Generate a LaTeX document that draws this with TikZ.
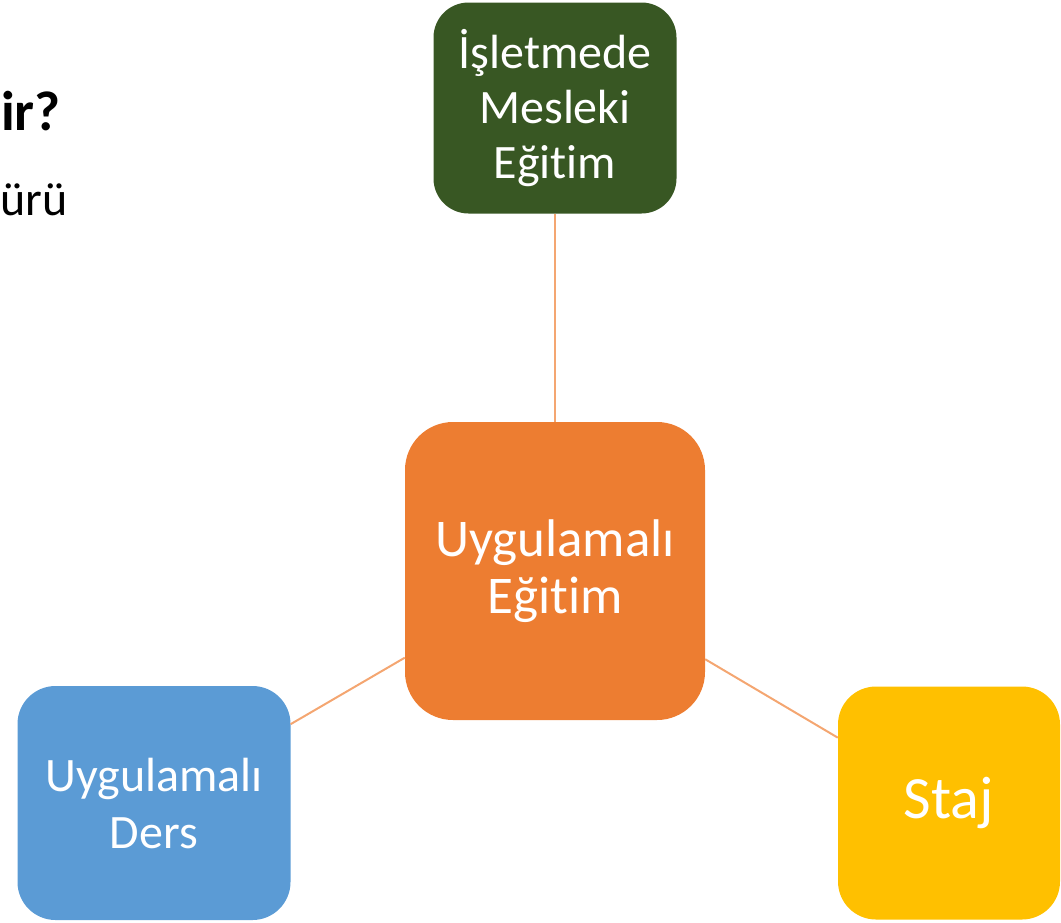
\documentclass[tikz,border=0pt]{standalone}
\usepackage{fontspec}
\setmainfont{Carlito}[Ligatures=NoCommon]
\definecolor{cgreen}{HTML}{385723}
\definecolor{corange}{HTML}{ED7D31}
\definecolor{cblue}{HTML}{5B9BD5}
\definecolor{cyellow}{HTML}{FFC000}
\definecolor{cline}{HTML}{F4A671}
\begin{document}
\begin{tikzpicture}[x=1pt,y=-1pt,
  box/.style={inner sep=0pt, text=white, align=center},
  link/.style={draw=cline, line width=2pt}]
\useasboundingbox (0,0) rectangle (1061,922);
\clip (0,0) rectangle (1061,922);
\node[box, fill=cgreen, minimum width=243pt, minimum height=211pt, rounded corners=35pt,
  font=\fontsize{48}{55}\selectfont] (g) at (555,108) {İşletmede\\Mesleki\\Eğitim};
\node[box, fill=corange, minimum width=300pt, minimum height=298pt, rounded corners=48pt,
  font=\fontsize{53}{57}\selectfont] (o) at (555,571) {Uygulamalı\\Eğitim};
\node[box, fill=cblue, minimum width=273pt, minimum height=234pt, rounded corners=38pt,
  font=\fontsize{48}{57}\selectfont] (b) at (154,803) {Uygulamalı\\Ders};
\node[box, fill=cyellow, minimum width=222pt, minimum height=233pt, rounded corners=38pt,
  font=\fontsize{60}{66}\selectfont] (y) at (949,803) {Staj};
\draw[link] (g) -- (o);
\draw[link] (o) -- (b);
\draw[link] (o) -- (y);
\node[anchor=base west, inner sep=0pt, font=\fontsize{56}{60}\selectfont\bfseries] (t1) at (1,130) {ir?};
\node[anchor=base east, inner sep=0pt, font=\fontsize{48}{52}\selectfont] (t2) at (68,215) {ürü};
\end{tikzpicture}
\end{document}
